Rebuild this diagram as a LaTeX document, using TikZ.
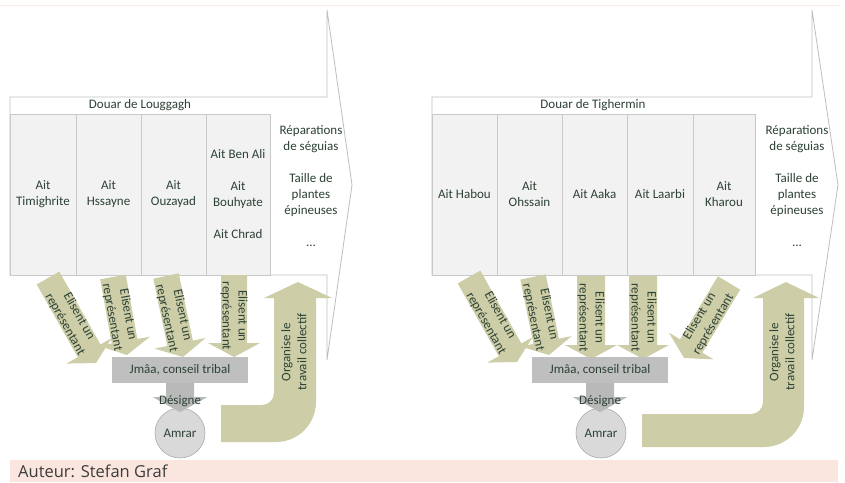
\documentclass[tikz,border=0pt]{standalone}
\usepackage{fontspec}
\setmainfont{Carlito}
\newfontfamily\capfont{Open Sans}
\usetikzlibrary{calc}
\definecolor{txt}{RGB}{44,66,52}
\definecolor{khaki}{RGB}{205,205,168}
\definecolor{colfill}{RGB}{242,242,242}
\definecolor{colline}{RGB}{200,200,200}
\definecolor{outl}{RGB}{190,190,190}
\definecolor{boxgray}{RGB}{191,191,191}
\definecolor{arrgray}{RGB}{185,185,185}
\definecolor{circfill}{RGB}{217,217,217}
\definecolor{circline}{RGB}{170,170,170}
\definecolor{capbg}{RGB}{250,230,222}
\definecolor{captxt}{RGB}{60,60,60}
\definecolor{topline}{RGB}{250,236,228}
\newcommand{\blockarrow}[7]{% #1 style, #2 name, #3 start, #4 tip, #5 shaft hw, #6 head hw, #7 head length
  \coordinate (#2s) at #3;
  \coordinate (#2t) at #4;
  \coordinate (#2b) at ($(#2t)!#7!(#2s)$);
  \path[#1] ($(#2s)!#5!90:(#2t)$) -- ($(#2b)!#5!90:(#2t)$) -- ($(#2b)!#6!90:(#2t)$) -- (#2t)
     -- ($(#2b)!#6!-90:(#2t)$) -- ($(#2b)!#5!-90:(#2t)$) -- ($(#2s)!#5!-90:(#2t)$) -- cycle;
}
\tikzset{
  lbl/.style={text=txt, font=\fontsize{13}{16}\selectfont, align=center, inner sep=0pt},
  bigarrow/.style={fill=white, draw=outl, line width=0.8pt},
  colbox/.style={lbl, fill=colfill, draw=colline, line width=0.6pt, minimum height=161pt},
  khakifill/.style={fill=khaki},
  grayarrow/.style={fill=arrgray},
  jmbox/.style={lbl, fill=boxgray, minimum width=136pt, minimum height=26pt},
  amrar/.style={lbl, circle, fill=circfill, draw=circline, line width=0.6pt, minimum size=50pt},
}
\begin{document}
\begin{tikzpicture}[x=1pt,y=-1pt]
\path[use as bounding box] (0,0) rectangle (845,482);
\draw[topline, line width=1.5pt] (0,5.5) -- (840,5.5);

% ===================== LEFT =====================
\draw[bigarrow] (10,97) -- (327,97) -- (327,10) -- (352,185) -- (327,360) -- (327,275) -- (10,275) -- cycle;
\node[lbl] (h1) at (140,105.5) {Douar de Louggagh};
\node[colbox, minimum width=66pt] (c11) at (43,194.5) {Ait\\Timighrite};
\node[colbox, minimum width=65pt] (c12) at (108.5,194.5) {Ait\\Hssayne};
\node[colbox, minimum width=65pt] (c13) at (173.5,194.5) {Ait\\Ouzayad};
\node[colbox, minimum width=64pt] (c14) at (238,194.5) {Ait Ben Ali\\[16pt]Ait\\Bouhyate\\[16pt]Ait Chrad};
\node[lbl] (w1) at (311,186) {Réparations\\de séguias\\[16pt]Taille de\\plantes\\épineuses\\[16pt]...};

\blockarrow{khakifill}{a1}{(48,278)}{(96,363)}{13pt}{26pt}{14pt}
\blockarrow{khakifill}{a2}{(113,277)}{(127,355)}{13pt}{26pt}{14pt}
\blockarrow{khakifill}{a3}{(166,276)}{(183,357)}{13pt}{26pt}{14pt}
\blockarrow{khakifill}{a4}{(234,275)}{(234,357)}{13pt}{26pt}{14pt}
\node[lbl, rotate=-60.5] (l1) at ($(a1s)!0.5!(a1t)$) {Elisent un\\représentant};
\node[lbl, rotate=-79.8] (l2) at ($(a2s)!0.5!(a2t)$) {Elisent un\\représentant};
\node[lbl, rotate=-78.1] (l3) at ($(a3s)!0.5!(a3t)$) {Elisent un\\représentant};
\node[lbl, rotate=-90] (l4) at ($(a4s)!0.5!(a4t)$) {Elisent un\\représentant};

\node[jmbox] (j1) at (180,370) {Jmâa, conseil tribal};
\node[amrar] (m1) at (180,433) {Amrar};
\blockarrow{grayarrow}{d1}{(j1.south)}{($(j1.south)+(0,29)$)}{14pt}{27pt}{15pt}
\node[lbl] (dl1) at (180,401) {Désigne};

\fill[khaki] (221,442) -- (276,442) .. controls (298.1,442) and (316,424.1) .. (316,402)
  -- (316,298) -- (332,298) -- (298,282) -- (264,298) -- (274,298) -- (274,393)
  .. controls (274,399.6) and (268.6,405) .. (262,405) -- (221,405) -- cycle;
\node[lbl, rotate=90] (o1) at (294,352) {Organise le\\travail collectif};

% ===================== RIGHT =====================
\draw[bigarrow] (432,97) -- (812,97) -- (812,10) -- (838,185) -- (812,360) -- (812,275) -- (432,275) -- cycle;
\node[lbl] (h2) at (593,105.5) {Douar de Tighermin};
\node[colbox, minimum width=65pt] (c21) at (464.5,194.5) {Ait Habou};
\node[colbox, minimum width=65pt] (c22) at (529.5,194.5) {Ait\\Ohssain};
\node[colbox, minimum width=65pt] (c23) at (594.5,194.5) {Ait Aaka};
\node[colbox, minimum width=66pt] (c24) at (660,194.5) {Ait Laarbi};
\node[colbox, minimum width=62pt] (c25) at (724,194.5) {Ait\\Kharou};
\node[lbl] (w2) at (797,186) {Réparations\\de séguias\\[16pt]Taille de\\plantes\\épineuses\\[16pt]...};

\blockarrow{khakifill}{r1}{(469,277)}{(517,362)}{13pt}{26pt}{14pt}
\blockarrow{khakifill}{r2}{(533,277)}{(549,355)}{13pt}{26pt}{14pt}
\blockarrow{khakifill}{r3}{(591,276)}{(591,359)}{14pt}{26pt}{14pt}
\blockarrow{khakifill}{r4}{(643,276)}{(643,359)}{14pt}{26pt}{14pt}
\blockarrow{khakifill}{r5}{(729,283)}{(684,358)}{13pt}{26pt}{14pt}
\node[lbl, rotate=-60.5] (k1) at ($(r1s)!0.5!(r1t)$) {Elisent un\\représentant};
\node[lbl, rotate=-78.4] (k2) at ($(r2s)!0.5!(r2t)$) {Elisent un\\représentant};
\node[lbl, rotate=-90] (k3) at ($(r3s)!0.5!(r3t)$) {Elisent un\\représentant};
\node[lbl, rotate=-90] (k4) at ($(r4s)!0.5!(r4t)$) {Elisent un\\représentant};
\node[lbl, rotate=59] (k5) at ($(r5s)!0.5!(r5t)$) {Elisent un\\représentant};

\node[jmbox] (j2) at (600,370) {Jmâa, conseil tribal};
\node[amrar] (m2) at (601,433) {Amrar};
\blockarrow{grayarrow}{d2}{(j2.south)}{($(j2.south)+(0,29)$)}{14pt}{27pt}{15pt}
\node[lbl] (dl2) at (600,401) {Désigne};

\fill[khaki] (642,447) -- (764,447) .. controls (786.1,447) and (804,429.1) .. (804,407)
  -- (804,298) -- (819,298) -- (786,282) -- (753,298) -- (763,298) -- (763,402)
  .. controls (763,408.6) and (757.6,414) .. (751,414) -- (642,414) -- cycle;
\node[lbl, rotate=90] (o2) at (782,352) {Organise le\\travail collectif};

% ===================== CAPTION =====================
\fill[capbg] (10,460) rectangle (838,482);
\node[anchor=west, inner sep=0pt, text=captxt, font=\capfont\fontsize{16.5}{18}\selectfont] (cap) at (18,471) {Auteur: Stefan Graf};
\end{tikzpicture}
\end{document}
